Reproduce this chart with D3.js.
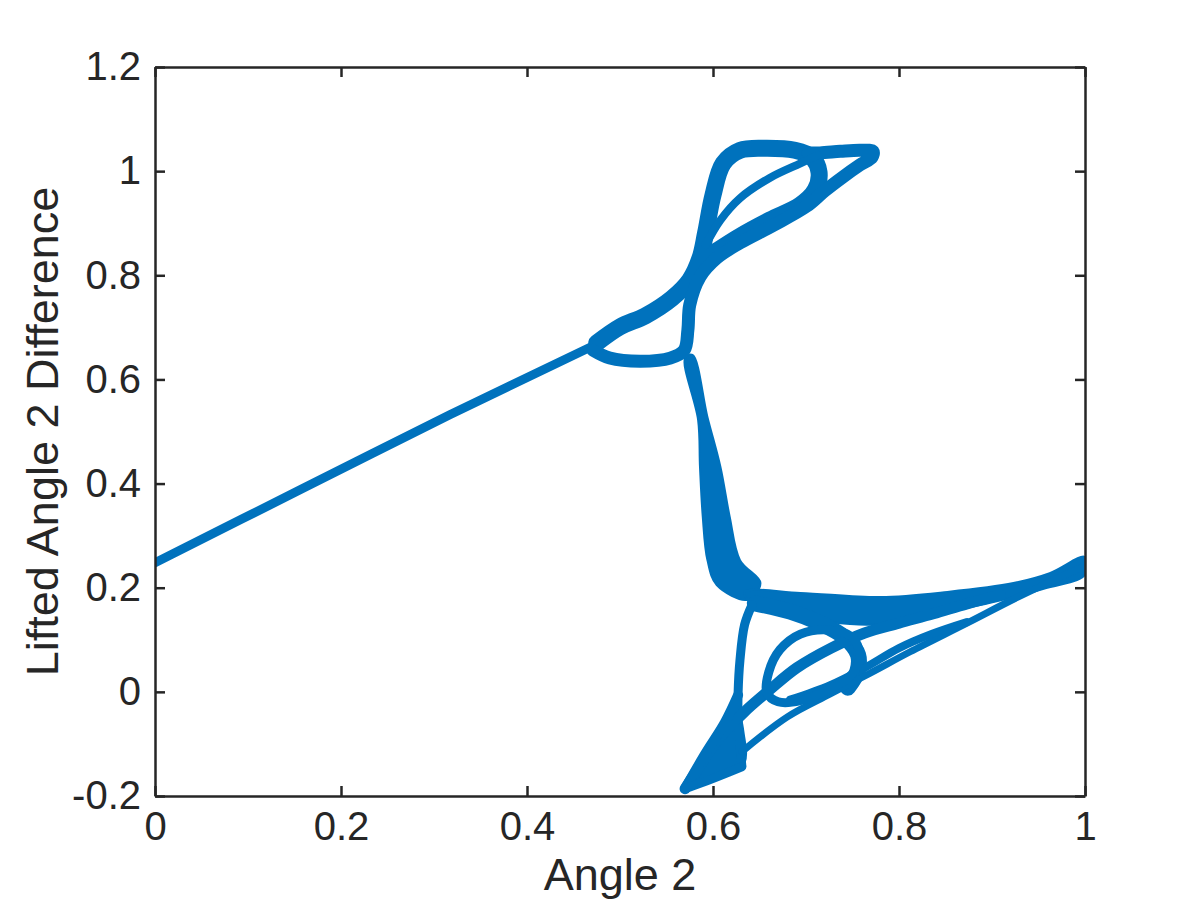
<!DOCTYPE html>
<html>
<head>
<meta charset="utf-8">
<script src="https://cdn.jsdelivr.net/npm/d3@7"></script>
<style>
  body { margin: 0; background: #fff; }
  svg { display: block; }
  .tick-label { font-family: "Liberation Sans", Arial, Helvetica, sans-serif; fill: #262626; }
</style>
</head>
<body>
<div id="chart"></div>
<script>
// Axis ticks
const xTicks = [0, 0.2, 0.4, 0.6, 0.8, 1];
const yTicks = [-0.2, 0, 0.2, 0.4, 0.6, 0.8, 1, 1.2];
const xLabels = ['0', '0.2', '0.4', '0.6', '0.8', '1'];
const yLabels = ['-0.2', '0', '0.2', '0.4', '0.6', '0.8', '1', '1.2'];

// Point cloud traced as bands: [angle2, lifted difference]
const leftBand = [[0, 0.248], [0.156, 0.388], [0.317, 0.532], [0.473, 0.666]];

const upperLobe = [[0.475, 0.670], [0.500, 0.701], [0.527, 0.722], [0.556, 0.756], [0.575, 0.791],
  [0.586, 0.833], [0.592, 0.881], [0.600, 0.954], [0.611, 1.015], [0.629, 1.040], [0.656, 1.044],
  [0.688, 1.040], [0.706, 1.027], [0.714, 0.998], [0.710, 0.964], [0.694, 0.935], [0.661, 0.906],
  [0.629, 0.875], [0.605, 0.848], [0.586, 0.825]];

const lowerLoopAndLobe = [[0.471, 0.656], [0.489, 0.641], [0.522, 0.635], [0.554, 0.641], [0.569, 0.656],
  [0.573, 0.695], [0.575, 0.743], [0.586, 0.797], [0.604, 0.833], [0.629, 0.862], [0.665, 0.896],
  [0.701, 0.933], [0.720, 0.962], [0.739, 0.988], [0.758, 1.012], [0.771, 1.027], [0.772, 1.038],
  [0.758, 1.040], [0.737, 1.038], [0.715, 1.035], [0.702, 1.035]];

const innerStrand = [[0.592, 0.858], [0.608, 0.906], [0.629, 0.948], [0.661, 0.987], [0.694, 1.015], [0.713, 1.031]];

const neck = [[0.570, 0.641], [0.584, 0.522], [0.586, 0.432], [0.589, 0.336], [0.594, 0.253], [0.604, 0.205],
  [0.637, 0.177], [0.651, 0.209], [0.629, 0.253], [0.618, 0.336], [0.608, 0.432], [0.594, 0.528], [0.578, 0.647]];

const topBand = [[0.634, 0.192], [0.694, 0.190], [0.780, 0.182], [0.852, 0.192], [0.923, 0.209], [0.962, 0.228],
  [1.0, 0.259], [1.0, 0.225], [0.952, 0.196], [0.898, 0.171], [0.855, 0.154], [0.815, 0.138], [0.769, 0.129],
  [0.726, 0.134], [0.683, 0.148], [0.645, 0.163]];

const tipWedge = [[0.570, -0.186], [0.596, -0.128], [0.617, -0.080], [0.627, -0.040], [0.633, -0.080],
  [0.633, -0.140], [0.600, -0.170]];

const crescent = [[0.645, 0.170], [0.683, 0.154], [0.715, 0.132], [0.742, 0.104], [0.756, 0.071], [0.755, 0.038], [0.745, 0.008]];

const innerLoop = [[0.658, -0.002], [0.670, -0.019], [0.694, -0.017], [0.724, 0.004], [0.749, 0.033], [0.758, 0.071],
  [0.749, 0.106], [0.724, 0.119], [0.694, 0.111], [0.672, 0.081], [0.660, 0.038]];

const leftSide = [[0.642, 0.167], [0.634, 0.129], [0.629, 0.061], [0.627, -0.002], [0.627, -0.054], [0.629, -0.102], [0.631, -0.142]];

const tipDiagonal = [[0.570, -0.186], [0.586, -0.142], [0.605, -0.092], [0.634, -0.038], [0.661, 0.004], [0.690, 0.046],
  [0.727, 0.084], [0.763, 0.113], [0.800, 0.132], [0.837, 0.150], [0.873, 0.169], [0.909, 0.186]];

const tipUp = [[0.570, -0.186], [0.591, -0.121], [0.613, -0.058], [0.627, -0.006]];

const tipRight = [[0.570, -0.186], [0.599, -0.167], [0.631, -0.144]];

const bottomDiagonal = [[0.631, -0.115], [0.680, -0.048], [0.726, -0.004], [0.769, 0.036], [0.812, 0.077],
  [0.873, 0.132], [0.930, 0.184], [1.0, 0.242]];

const loopTail = [[0.683, -0.015], [0.726, 0.013], [0.763, 0.046], [0.800, 0.084], [0.835, 0.111], [0.873, 0.134]];

const openBands = [
  { name: 'leftBand', pts: leftBand },
  { name: 'upperLobe', pts: upperLobe },
  { name: 'lowerLoopAndLobe', pts: lowerLoopAndLobe },
  { name: 'innerStrand', pts: innerStrand },
  { name: 'crescent', pts: crescent },
  { name: 'leftSide', pts: leftSide },
  { name: 'tipDiagonal', pts: tipDiagonal },
  { name: 'tipUp', pts: tipUp },
  { name: 'tipRight', pts: tipRight },
  { name: 'bottomDiagonal', pts: bottomDiagonal },
  { name: 'loopTail', pts: loopTail },
];
const filledAreas = [neck, topBand, tipWedge];

// stroke widths (px) for each band
const bandWidth = {
  leftBand: 9, upperLobe: 17, lowerLoopAndLobe: 13, innerStrand: 8, crescent: 16,
  leftSide: 9, tipDiagonal: 11, tipUp: 10, tipRight: 9, bottomDiagonal: 7, loopTail: 8,
};

const config = {
  width: 1200, height: 900,
  margin: { top: 67, right: 115, bottom: 104, left: 155 },
};
const color = '#0072BD';
const axisColor = '#262626';

const innerW = config.width - config.margin.left - config.margin.right;
const innerH = config.height - config.margin.top - config.margin.bottom;

const svg = d3.select('#chart').append('svg')
    .attr('width', config.width)
    .attr('height', config.height);

const g = svg.append('g')
    .attr('transform', `translate(${config.margin.left},${config.margin.top})`);

const xScale = d3.scaleLinear().domain([0, 1]).range([0, innerW]);
const yScale = d3.scaleLinear().domain([-0.2, 1.2]).range([innerH, 0]);

g.append('clipPath').attr('id', 'plotClip')
  .append('rect').attr('width', innerW).attr('height', innerH);

const plot = g.append('g').attr('clip-path', 'url(#plotClip)');

const line = d3.line()
    .x(d => xScale(d[0]))
    .y(d => yScale(d[1]))
    .curve(d3.curveCatmullRom.alpha(0.5));

const area = d3.line()
    .x(d => xScale(d[0]))
    .y(d => yScale(d[1]))
    .curve(d3.curveCatmullRomClosed.alpha(0.5));

plot.selectAll('path.area')
  .data(filledAreas)
  .join('path')
    .attr('class', 'area')
    .attr('d', area)
    .attr('fill', color)
    .attr('stroke', color)
    .attr('stroke-width', 2);

plot.selectAll('path.band')
  .data(openBands)
  .join('path')
    .attr('class', 'band')
    .attr('d', d => line(d.pts))
    .attr('fill', 'none')
    .attr('stroke', color)
    .attr('stroke-width', d => bandWidth[d.name])
    .attr('stroke-linecap', 'round')
    .attr('stroke-linejoin', 'round');

plot.append('path')
    .attr('d', area(innerLoop))
    .attr('fill', 'none')
    .attr('stroke', color)
    .attr('stroke-width', 9);

// axes, MATLAB style box with inward ticks
const tickLen = 10;
const xAxisB = d3.axisBottom(xScale).tickValues(xTicks).tickSize(-tickLen).tickSizeOuter(0)
    .tickFormat((d, i) => xLabels[i]).tickPadding(16);
const xAxisT = d3.axisTop(xScale).tickValues(xTicks).tickSize(-tickLen).tickSizeOuter(0).tickFormat('');
const yAxisL = d3.axisLeft(yScale).tickValues(yTicks).tickSize(-tickLen).tickSizeOuter(0)
    .tickFormat((d, i) => yLabels[i]).tickPadding(14);
const yAxisR = d3.axisRight(yScale).tickValues(yTicks).tickSize(-tickLen).tickSizeOuter(0).tickFormat('');

const axes = [
  g.append('g').attr('transform', `translate(0,${innerH})`).call(xAxisB),
  g.append('g').call(xAxisT),
  g.append('g').call(yAxisL),
  g.append('g').attr('transform', `translate(${innerW},0)`).call(yAxisR),
];
axes.forEach(a => {
  a.select('.domain').attr('stroke', axisColor).attr('stroke-width', 2.5);
  a.selectAll('.tick line').attr('stroke', axisColor).attr('stroke-width', 2.5);
  a.selectAll('.tick text')
      .attr('class', 'tick-label')
      .attr('font-size', 40)
      .attr('fill', axisColor);
});

g.append('text')
    .attr('class', 'tick-label')
    .attr('x', innerW / 2)
    .attr('y', innerH + 94)
    .attr('text-anchor', 'middle')
    .attr('font-size', 45)
    .text('Angle 2');

g.append('text')
    .attr('class', 'tick-label')
    .attr('transform', `translate(${-97},${innerH / 2}) rotate(-90)`)
    .attr('text-anchor', 'middle')
    .attr('font-size', 45)
    .text('Lifted Angle 2 Difference');
</script>
</body>
</html>
